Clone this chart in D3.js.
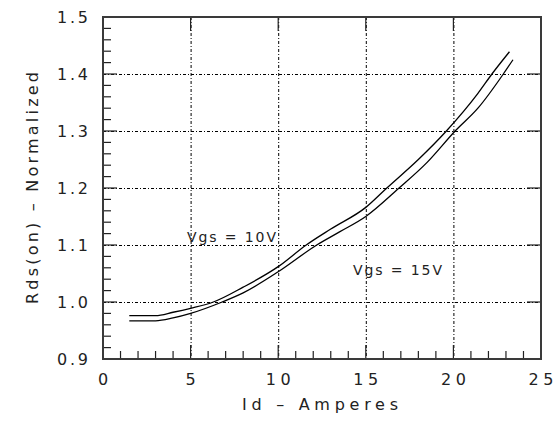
<!DOCTYPE html>
<html>
<head>
<meta charset="utf-8">
<script src="https://cdn.jsdelivr.net/npm/d3@7"></script>
<style>
  body { margin: 0; background: #fff; }
  text { font-family: "DejaVu Sans", sans-serif; fill: #222; }
</style>
</head>
<body>
<svg width="553" height="439"></svg>
<script>
// Rds(on) normalized vs drain current, two gate voltages
var width = 553;
var height = 439;

const xTicks = [0, 5, 10, 15, 20, 25];
const yTicks = [0.9, 1.0, 1.1, 1.2, 1.3, 1.4, 1.5];
const yTickLabels = ["0.9", "1.0", "1.1", "1.2", "1.3", "1.4", "1.5"];

// Vgs = 10V (upper curve)
const id10 = [1.5, 3.0, 4.0, 5.0, 6.3, 8.0, 10.0, 11.6, 13.0, 15.0, 16.2, 18.0, 19.6, 21.4, 22.2, 23.2];
const rds10 = [0.976, 0.976, 0.982, 0.989, 1.0, 1.026, 1.062, 1.1, 1.128, 1.166, 1.2, 1.25, 1.3, 1.366, 1.4, 1.439];

// Vgs = 15V (lower curve)
const id15 = [1.5, 3.0, 4.0, 5.0, 6.8, 8.0, 10.0, 12.2, 13.5, 15.0, 16.9, 18.5, 20.1, 21.4, 22.85, 23.4];
const rds15 = [0.967, 0.967, 0.972, 0.980, 1.0, 1.016, 1.053, 1.1, 1.123, 1.150, 1.2, 1.245, 1.3, 1.340, 1.4, 1.425];

const series = [
    {name: "Vgs = 10V", x: id10, y: rds10},
    {name: "Vgs = 15V", x: id15, y: rds15}
];

// plot box
var pLeft = 103, pRight = 541, pTop = 17, pBottom = 359;

var svg = d3.select("svg").attr("width", width).attr("height", height);

let xScale = d3.scaleLinear().domain([0, 25]).range([pLeft, pRight]);
let yScale = d3.scaleLinear().domain([0.9, 1.5]).range([pBottom, pTop]);

// dotted grid lines
let grid = svg.append("g").attr("stroke", "#000").attr("stroke-width", 1)
    .attr("stroke-dasharray", "3,2,1,2");
grid.selectAll(".gx").data(xTicks.slice(1, -1)).enter().append("line")
    .attr("x1", d => xScale(d) + 0.5).attr("x2", d => xScale(d) + 0.5)
    .attr("y1", pTop).attr("y2", pBottom);
grid.selectAll(".gy").data(yTicks.slice(1, -1)).enter().append("line")
    .attr("y1", d => yScale(d) + 0.5).attr("y2", d => yScale(d) + 0.5)
    .attr("x1", pLeft).attr("x2", pRight);

// minor ticks (left and bottom only)
let minorX = d3.range(1, 25).filter(v => v % 5 != 0);
let minorY = d3.range(0, 30).map(i => 0.9 + i * 0.02).filter((v, i) => i % 5 != 0);

let ticks = svg.append("g").attr("stroke", "#222").attr("stroke-width", 1.2);
ticks.selectAll(".mx").data(minorX).enter().append("line")
    .attr("x1", d => xScale(d)).attr("x2", d => xScale(d))
    .attr("y1", pBottom).attr("y2", pBottom - 8);
ticks.selectAll(".my").data(minorY).enter().append("line")
    .attr("y1", d => yScale(d)).attr("y2", d => yScale(d))
    .attr("x1", pLeft).attr("x2", pLeft + 8);

// major ticks, inside on all four sides
let majorX = xTicks.slice(1, -1);
let majorY = yTicks.slice(1, -1);
ticks.selectAll(".Mxb").data(majorX).enter().append("line")
    .attr("x1", d => xScale(d)).attr("x2", d => xScale(d))
    .attr("y1", pBottom).attr("y2", pBottom - 14);
ticks.selectAll(".Mxt").data(majorX).enter().append("line")
    .attr("x1", d => xScale(d)).attr("x2", d => xScale(d))
    .attr("y1", pTop).attr("y2", pTop + 14);
ticks.selectAll(".Myl").data(majorY).enter().append("line")
    .attr("y1", d => yScale(d)).attr("y2", d => yScale(d))
    .attr("x1", pLeft).attr("x2", pLeft + 14);
ticks.selectAll(".Myr").data(majorY).enter().append("line")
    .attr("y1", d => yScale(d)).attr("y2", d => yScale(d))
    .attr("x1", pRight).attr("x2", pRight - 14);

// frame
svg.append("rect")
    .attr("x", pLeft).attr("y", pTop)
    .attr("width", pRight - pLeft).attr("height", pBottom - pTop)
    .attr("fill", "none").attr("stroke", "#3a3a3a").attr("stroke-width", 2);

// tick labels
svg.selectAll(".xl").data(xTicks).enter().append("text")
    .attr("x", d => xScale(d)).attr("y", 385)
    .attr("text-anchor", "middle")
    .style("font-size", "16px")
    .each(function(d) {
        let t = String(d);
        d3.select(this).text(t);
        if (t.length > 1) d3.select(this).attr("textLength", 25).attr("lengthAdjust", "spacing");
    });

svg.selectAll(".yl").data(yTicks).enter().append("text")
    .attr("x", 88).attr("y", d => yScale(d) + 6)
    .attr("text-anchor", "end")
    .style("font-size", "16px")
    .attr("textLength", 31).attr("lengthAdjust", "spacing")
    .text((d, i) => yTickLabels[i]);

// lines
let line = d3.line().x(d => xScale(d[0])).y(d => yScale(d[1])).curve(d3.curveMonotoneX);
series.forEach(s => {
    svg.append("path")
        .datum(s.x.map((v, i) => [v, s.y[i]]))
        .attr("d", line)
        .attr("fill", "none")
        .attr("stroke", "#000")
        .attr("stroke-width", 1.3);
});

// curve labels
svg.append("text").attr("x", 187).attr("y", 242)
    .style("font-size", "14px")
    .attr("textLength", 89).attr("lengthAdjust", "spacing")
    .text(series[0].name);
svg.append("text").attr("x", 353).attr("y", 275)
    .style("font-size", "14px")
    .attr("textLength", 89).attr("lengthAdjust", "spacing")
    .text(series[1].name);

// axis titles
svg.append("text")
    .attr("text-anchor", "middle")
    .attr("transform", "translate(38,188) rotate(-90)")
    .style("font-size", "16px")
    .attr("textLength", 232).attr("lengthAdjust", "spacing")
    .text("Rds(on) – Normalized");

svg.append("text")
    .attr("text-anchor", "middle")
    .attr("x", 320).attr("y", 410)
    .style("font-size", "16px")
    .attr("textLength", 156).attr("lengthAdjust", "spacing")
    .text("Id – Amperes");
</script>
</body>
</html>
